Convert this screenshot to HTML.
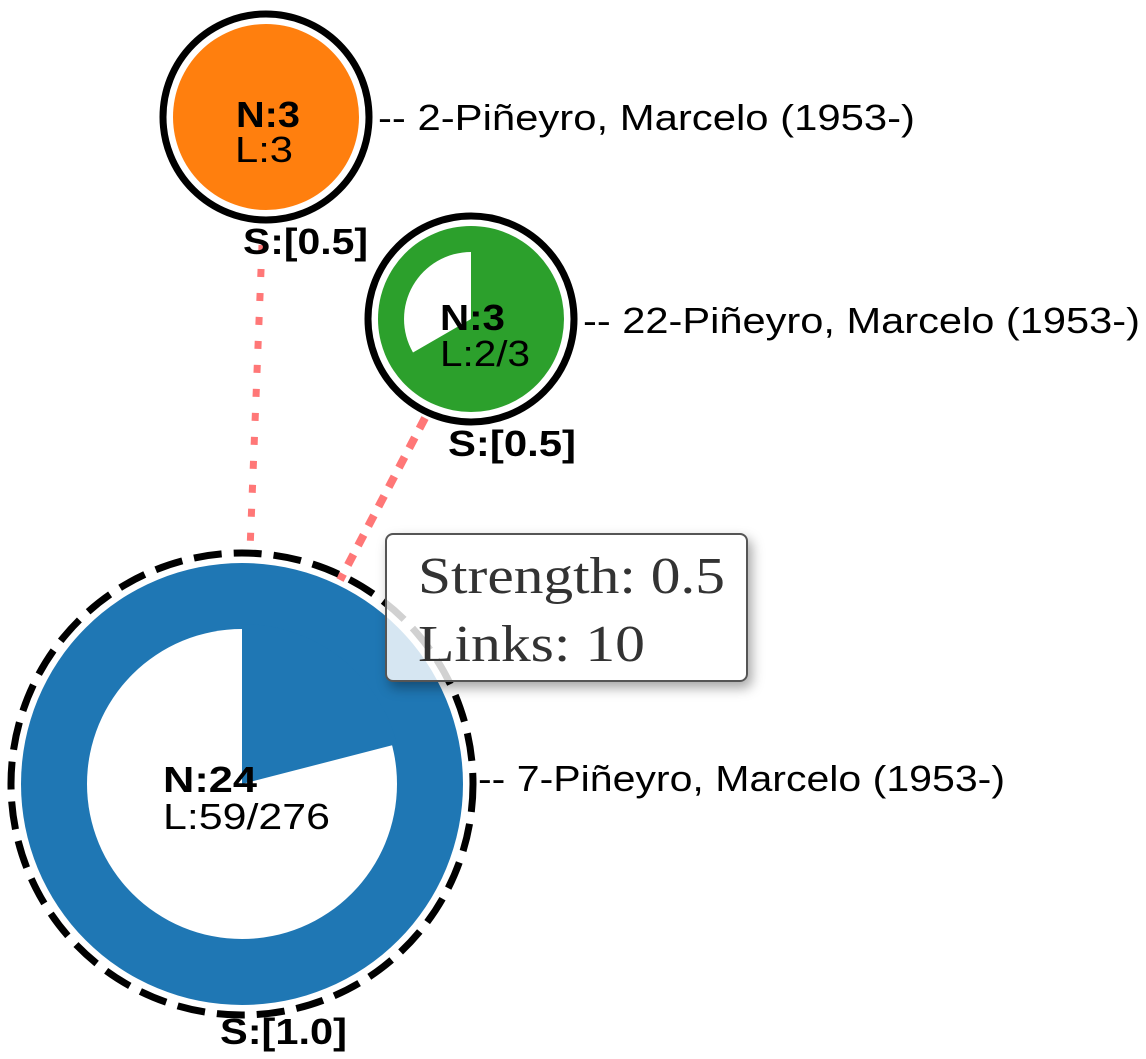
<!DOCTYPE html>
<html><head><meta charset="utf-8"><style>
html,body{margin:0;padding:0;background:#fff;}
svg{display:block;}
.tip{position:absolute;left:385px;top:533px;width:363px;height:149px;border:2px solid #555;border-radius:8px;background:rgba(255,255,255,0.82);box-shadow:4px 6px 12px rgba(0,0,0,0.35);box-sizing:border-box;}
</style></head><body>
<div style="position:relative;width:1146px;height:1059px;overflow:hidden">
<svg width="1146" height="1059" font-family="Liberation Sans, sans-serif">
<line x1="262" y1="245" x2="250" y2="550" stroke="#f77" stroke-width="7" stroke-dasharray="8,16"/>
<line x1="425" y1="418" x2="340" y2="580" stroke="#f77" stroke-width="8" stroke-dasharray="12,10"/>
<!-- orange -->
<circle cx="266" cy="117" r="103" fill="#fff" stroke="#000" stroke-width="7"/>
<circle cx="266" cy="117" r="93" fill="#ff7f0e"/>
<text x="236" y="127" font-weight="bold" font-size="36" textLength="64" lengthAdjust="spacingAndGlyphs">N:3</text>
<text x="235" y="162" font-size="36" textLength="58" lengthAdjust="spacingAndGlyphs">L:3</text>
<text x="378" y="130" font-size="36" textLength="537" lengthAdjust="spacingAndGlyphs">-- 2-Piñeyro, Marcelo (1953-)</text>
<text x="243" y="254" font-weight="bold" font-size="36" textLength="125" lengthAdjust="spacingAndGlyphs">S:[0.5]</text>
<!-- green -->
<circle cx="471" cy="319" r="103" fill="#fff" stroke="#000" stroke-width="7"/>
<circle cx="471" cy="319" r="93" fill="#2ca02c"/>
<path d="M471 319 L471 252 A67 67 0 0 0 413 352.5 Z" fill="#fff"/>
<text x="440" y="330" font-weight="bold" font-size="36" textLength="65" lengthAdjust="spacingAndGlyphs">N:3</text>
<text x="440" y="366" font-size="36" textLength="90" lengthAdjust="spacingAndGlyphs">L:2/3</text>
<text x="583" y="333" font-size="36" textLength="557" lengthAdjust="spacingAndGlyphs">-- 22-Piñeyro, Marcelo (1953-)</text>
<text x="448" y="456" font-weight="bold" font-size="36" textLength="128" lengthAdjust="spacingAndGlyphs">S:[0.5]</text>
<!-- blue -->
<circle cx="242" cy="784" r="221" fill="#1f77b4"/>
<circle cx="242" cy="784" r="155" fill="#fff"/>
<path d="M242 784 L242 624 A160 160 0 0 1 397 744 Z" fill="#1f77b4"/>
<circle cx="242" cy="784" r="231" fill="none" stroke="#000" stroke-width="7" stroke-dasharray="28,12"/>
<text x="163" y="792" font-weight="bold" font-size="36" textLength="94" lengthAdjust="spacingAndGlyphs">N:24</text>
<text x="163" y="829" font-size="36" textLength="167" lengthAdjust="spacingAndGlyphs">L:59/276</text>
<text x="478" y="791" font-size="36" textLength="527" lengthAdjust="spacingAndGlyphs">-- 7-Piñeyro, Marcelo (1953-)</text>
<text x="220" y="1044" font-weight="bold" font-size="36" textLength="127" lengthAdjust="spacingAndGlyphs">S:[1.0]</text>
</svg>
<div class="tip"></div>
<svg width="1146" height="1059" style="position:absolute;left:0;top:0" font-family="Liberation Serif, serif" fill="#333">
<text x="418" y="593" font-size="52" textLength="307" lengthAdjust="spacingAndGlyphs">Strength: 0.5</text>
<text x="418" y="661" font-size="52" textLength="227" lengthAdjust="spacingAndGlyphs">Links: 10</text>
</svg>
</div>
</body></html>
